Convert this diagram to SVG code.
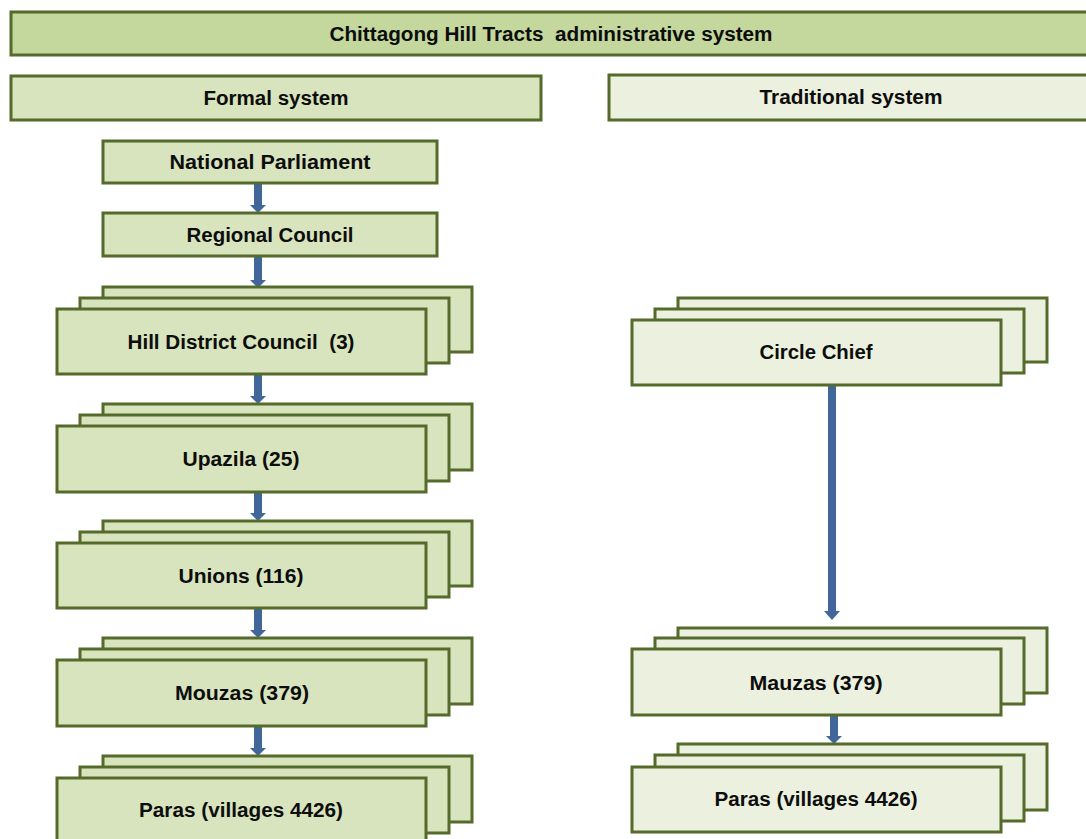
<svg xmlns="http://www.w3.org/2000/svg" width="1086" height="839" viewBox="0 0 1086 839">
<style>
.b{stroke:#546b2b;stroke-width:3}
.t1{fill:#c4d79c}
.f{fill:#d8e4bd}
.r{fill:#ebf1de}
text{font-family:"Liberation Sans",Arial,sans-serif;font-weight:bold;font-size:20px;fill:#0d0d0d;text-anchor:middle}
.c{fill:#41679a}
</style>
<rect width="1086" height="839" fill="#fff"/>
<g id="connectors" class="c">
<path d="M254 183 H262 V205 H266 L258 213 L250 205 H254 Z"/>
<path d="M254 256 H262 V280 H266 L258 288 L250 280 H254 Z"/>
<path d="M254 374 H262 V396 H266 L258 404 L250 396 H254 Z"/>
<path d="M254 492 H262 V513 H266 L258 521 L250 513 H254 Z"/>
<path d="M254 608 H262 V630 H266 L258 638 L250 630 H254 Z"/>
<path d="M254 726 H262 V748 H266 L258 756 L250 748 H254 Z"/>
<path d="M828 386 H836 V611 H840 L832 620 L824 611 H828 Z"/>
<path d="M830 715 H838 V736 H842 L834 744 L826 736 H830 Z"/>
</g>
<g id="title"><rect class="b t1" x="11" y="12" width="1090" height="43"/>
<text x="551" y="41" xml:space="preserve" textLength="443" lengthAdjust="spacingAndGlyphs">Chittagong Hill Tracts  administrative system</text></g>
<g id="formal"><rect class="b f" x="11" y="76" width="530" height="44"/>
<text x="276" y="105" textLength="145" lengthAdjust="spacingAndGlyphs">Formal system</text></g>
<g id="traditional"><rect class="b r" x="609" y="75" width="490" height="45"/>
<text x="851" y="104" textLength="183" lengthAdjust="spacingAndGlyphs">Traditional system</text></g>
<g id="parliament"><rect class="b f" x="103" y="141" width="334" height="42"/>
<text x="270" y="169" textLength="201" lengthAdjust="spacingAndGlyphs">National Parliament</text></g>
<g id="regional"><rect class="b f" x="103" y="213" width="334" height="43"/>
<text x="270" y="242" textLength="167" lengthAdjust="spacingAndGlyphs">Regional Council</text></g>
<g id="hill">
<rect class="b f" x="103" y="287" width="369" height="65"/>
<rect class="b f" x="80" y="298" width="369" height="65"/>
<rect class="b f" x="57" y="309" width="369" height="65"/>
<text x="241" y="349" xml:space="preserve" textLength="227" lengthAdjust="spacingAndGlyphs">Hill District Council  (3)</text></g>
<g id="upazila">
<rect class="b f" x="103" y="404" width="369" height="66"/>
<rect class="b f" x="80" y="415" width="369" height="66"/>
<rect class="b f" x="57" y="426" width="369" height="66"/>
<text x="241" y="466" textLength="117" lengthAdjust="spacingAndGlyphs">Upazila (25)</text></g>
<g id="unions">
<rect class="b f" x="103" y="521" width="369" height="65"/>
<rect class="b f" x="80" y="532" width="369" height="65"/>
<rect class="b f" x="57" y="543" width="369" height="65"/>
<text x="241" y="583" textLength="125" lengthAdjust="spacingAndGlyphs">Unions (116)</text></g>
<g id="mouzas">
<rect class="b f" x="103" y="638" width="369" height="66"/>
<rect class="b f" x="80" y="649" width="369" height="66"/>
<rect class="b f" x="57" y="660" width="369" height="66"/>
<text x="242" y="700" textLength="134" lengthAdjust="spacingAndGlyphs">Mouzas (379)</text></g>
<g id="paras-formal">
<rect class="b f" x="103" y="756" width="369" height="66"/>
<rect class="b f" x="80" y="767" width="369" height="66"/>
<rect class="b f" x="57" y="778" width="369" height="66"/>
<text x="241" y="817" textLength="204" lengthAdjust="spacingAndGlyphs">Paras (villages 4426)</text></g>
<g id="circle-chief">
<rect class="b r" x="678" y="298" width="369" height="64"/>
<rect class="b r" x="655" y="309" width="369" height="64"/>
<rect class="b r" x="632" y="320" width="369" height="65"/>
<text x="816" y="359" textLength="113" lengthAdjust="spacingAndGlyphs">Circle Chief</text></g>
<g id="mauzas">
<rect class="b r" x="678" y="628" width="369" height="65"/>
<rect class="b r" x="655" y="638" width="369" height="66"/>
<rect class="b r" x="632" y="649" width="369" height="66"/>
<text x="816" y="690" textLength="133" lengthAdjust="spacingAndGlyphs">Mauzas (379)</text></g>
<g id="paras-traditional">
<rect class="b r" x="678" y="744" width="369" height="66"/>
<rect class="b r" x="655" y="755" width="369" height="66"/>
<rect class="b r" x="632" y="767" width="369" height="65"/>
<text x="816" y="806" textLength="203" lengthAdjust="spacingAndGlyphs">Paras (villages 4426)</text></g>
</svg>
